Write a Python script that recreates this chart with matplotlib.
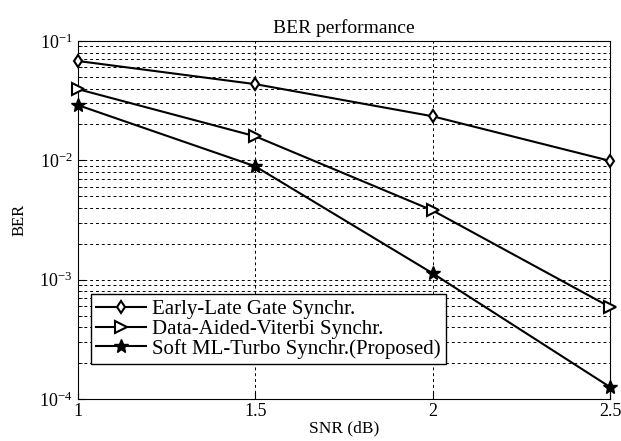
import matplotlib
matplotlib.use("Agg")
import matplotlib.pyplot as plt
from matplotlib.ticker import LogLocator, FixedLocator, NullFormatter

plt.rcParams['font.family'] = ['Liberation Serif', 'DejaVu Serif']
plt.rcParams['mathtext.fontset'] = 'custom'
plt.rcParams['mathtext.rm'] = 'Liberation Serif'
plt.rcParams['mathtext.it'] = 'Liberation Serif'

# data
snr = [1, 1.5, 2, 2.5]
early_late = [0.068, 0.0435, 0.0234, 0.0099]
data_aided = [0.0395, 0.0159, 0.0038, 0.00059]
soft_ml = [0.029, 0.0089, 0.00113, 0.000126]
labels = ['Early-Late Gate Synchr.', 'Data-Aided-Viterbi Synchr.',
          'Soft ML-Turbo Synchr.(Proposed)']

fig = plt.figure(figsize=(6.21, 4.41), dpi=100)
ax = fig.add_axes([0.1256, 0.0952, 0.8567, 0.8118])

ax.semilogy(snr, early_late, 'k-', marker='d', mfc='white', mec='k', ms=6, mew=1.5,
            lw=1.5, label=labels[0], clip_on=False, zorder=3)
ax.semilogy(snr, data_aided, 'k-', marker='>', mfc='white', mec='k', ms=8, mew=1.5,
            lw=1.5, label=labels[1], clip_on=False, zorder=3)
ax.semilogy(snr, soft_ml, 'k-', marker='*', mfc='k', mec='k', ms=10, lw=1.5,
            label=labels[2], clip_on=False, zorder=3)

ax.set_xlim(1, 2.5)
ax.set_ylim(1e-4, 1e-1)
ax.xaxis.set_major_locator(FixedLocator([1, 1.5, 2, 2.5]))
ax.set_xticklabels(['1', '1.5', '2', '2.5'])
ax.yaxis.set_major_locator(LogLocator(base=10, numticks=10))
ax.yaxis.set_minor_locator(LogLocator(base=10, subs=range(2, 10), numticks=10))
ax.yaxis.set_minor_formatter(NullFormatter())

ax.grid(True, which='major', axis='both', color='k', ls=(0, (3, 3)), lw=0.7)
ax.grid(True, which='minor', axis='y', color='k', ls=(0, (3, 3)), lw=0.7)
ax.tick_params(which='both', direction='in', labelsize=13, top=False, right=False)
ax.tick_params(which='major', length=5, pad=4)
ax.tick_params(which='minor', length=3)
ax.tick_params(axis='x', pad=3)
for s in ax.spines.values():
    s.set_color('k')

ax.set_title('BER performance', fontsize=14, pad=6)
ax.set_xlabel('SNR (dB)', fontsize=12.5, labelpad=0)
ax.set_ylabel('BER', fontsize=12, labelpad=8)

leg = ax.legend(loc='lower left', bbox_to_anchor=(0.0244, 0.098), fontsize=15,
                frameon=True, fancybox=False, edgecolor='k', framealpha=1,
                borderpad=0.25, labelspacing=0.0, handlelength=2.4, handletextpad=0.3,
                borderaxespad=0)
leg.get_frame().set_linewidth(1.0)

fig.savefig('out.png', dpi=100)
